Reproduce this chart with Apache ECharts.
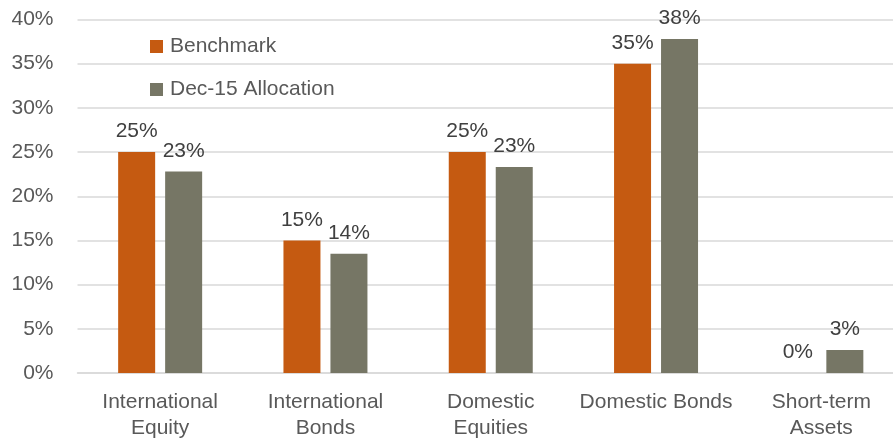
<!DOCTYPE html>
<html><head><meta charset="utf-8">
<script src="https://cdn.jsdelivr.net/npm/echarts@6/dist/echarts.min.js"></script>
<style>html,body{margin:0;padding:0;background:#fff;overflow:hidden;width:893px;height:441px}#c{width:905px;height:441px}</style>
</head><body><div id="c"></div>
<script>
const categories = ['International\nEquity', 'International\nBonds', 'Domestic\nEquities', 'Domestic Bonds', 'Short-term\nAssets'];
const benchmark = [25, 15, 25, 35, 0];
const allocation = [22.8, 13.5, 23.3, 37.8, 2.6];
const yTicks = [0, 5, 10, 15, 20, 25, 30, 35, 40];
const FONT = '"Liberation Sans", Arial, sans-serif';
const chart = echarts.init(document.getElementById('c'), null, {renderer: 'canvas'});
const lbl = {show: true, position: 'top', distance: 10, color: '#404040', fontSize: 21, fontFamily: FONT,
  formatter: p => Math.round(p.value) + '%'};
chart.setOption({
  animation: false,
  textStyle: {fontFamily: FONT},
  grid: {left: 77.5, top: 19.5, width: 826.5, height: 353.5, containLabel: false},
  legend: {orient: 'vertical', left: 145, top: 31, itemWidth: 13, itemHeight: 13, itemGap: 22,
    icon: 'rect', textStyle: {color: '#595959', fontSize: 21, fontFamily: FONT, padding: [0, 0, 0, 2]},
    data: ['Benchmark', 'Dec-15 Allocation']},
  xAxis: {type: 'category', data: categories,
    axisLine: {lineStyle: {color: '#d9d9d9', width: 1.5}}, axisTick: {show: false},
    axisLabel: {color: '#595959', fontSize: 21, fontFamily: FONT, lineHeight: 26, margin: 16, interval: 0}},
  yAxis: {type: 'value', min: yTicks[0], max: yTicks[yTicks.length - 1], interval: 5,
    axisLine: {show: false}, axisTick: {show: false},
    splitLine: {lineStyle: {color: '#d9d9d9', width: 1.5}},
    axisLabel: {color: '#595959', fontSize: 21, fontFamily: FONT, margin: 24, formatter: v => v + '%'}},
  series: [
    {name: 'Benchmark', type: 'bar', data: benchmark, barWidth: 37, barGap: '27%',
      itemStyle: {color: '#C55A11'}, label: lbl},
    {name: 'Dec-15 Allocation', type: 'bar', data: allocation, barWidth: 37,
      itemStyle: {color: '#767665'}, label: lbl}
  ]
});
</script></body></html>
